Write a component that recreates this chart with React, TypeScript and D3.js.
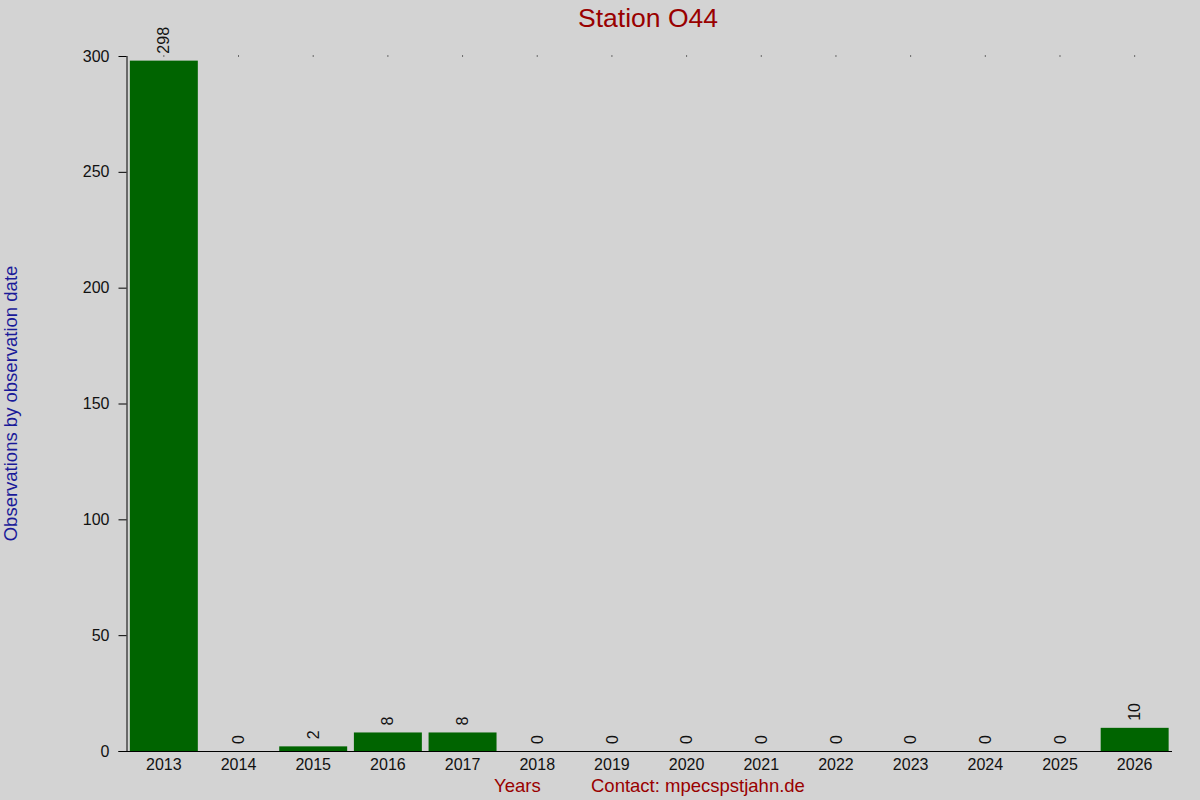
import React, { useEffect, useRef } from 'react';
import * as d3 from 'd3';

const years = ['2013', '2014', '2015', '2016', '2017', '2018', '2019', '2020', '2021', '2022', '2023', '2024', '2025', '2026'];
const counts = [298, 0, 2, 8, 8, 0, 0, 0, 0, 0, 0, 0, 0, 10];
const yTicks = [0, 50, 100, 150, 200, 250, 300];

const width = 1200;
const height = 800;
const font = '"Liberation Sans", Arial, sans-serif';

const App: React.FC = () => {
  const svgRef = useRef<SVGSVGElement>(null);

  useEffect(() => {
    const svg = d3.select(svgRef.current);
    svg.selectAll('*').remove();

    const margin = { top: 56, right: 28, bottom: 49, left: 126.5 };
    const innerWidth = width - margin.left - margin.right;
    const innerHeight = height - margin.top - margin.bottom;

    svg.append('rect').attr('width', width).attr('height', height).attr('fill', '#d3d3d3');

    const x = d3.scaleBand().domain(years).range([0, innerWidth]).paddingInner(0.09).paddingOuter(0.045);
    const y = d3.scaleLinear().domain([0, 300]).range([innerHeight, 0]);

    const g = svg.append('g').attr('transform', `translate(${margin.left},${margin.top})`);

    // Bars
    g.selectAll('.bar')
      .data(counts)
      .enter().append('rect')
      .attr('x', (_, i) => x(years[i]) as number)
      .attr('y', d => y(d))
      .attr('width', x.bandwidth())
      .attr('height', d => innerHeight - y(d))
      .attr('fill', '#006400');

    // Top dots
    g.selectAll('.dot')
      .data(years)
      .enter().append('rect')
      .attr('x', d => (x(d) as number) + x.bandwidth() / 2 - 0.5)
      .attr('y', -0.5)
      .attr('width', 1)
      .attr('height', 1)
      .attr('fill', '#000');

    // Value labels
    g.selectAll('.val')
      .data(counts)
      .enter().append('text')
      .attr('transform', (d, i) => `translate(${(x(years[i]) as number) + x.bandwidth() / 2},${y(d) - 7}) rotate(-90)`)
      .attr('dy', '0.35em')
      .style('font-family', font)
      .style('font-size', '16px')
      .style('fill', '#111')
      .text(d => d);

    // X axis
    const xAxis = g.append('g')
      .attr('transform', `translate(0,${innerHeight})`)
      .call(d3.axisBottom(x).tickSize(0).tickPadding(8));
    xAxis.select('.domain').attr('d', `M-8,0.5H${innerWidth}`).attr('stroke', '#000');
    xAxis.selectAll('text').style('font-family', font).style('font-size', '16px').attr('fill', '#111');

    // Y axis
    const yAxis = g.append('g')
      .call(d3.axisLeft(y).tickValues(yTicks).tickSize(8).tickPadding(9));
    yAxis.select('.domain').attr('d', `M0.5,0V${innerHeight}`).attr('stroke', '#000');
    yAxis.selectAll('text').style('font-family', font).style('font-size', '16px').attr('fill', '#111');

    // Title
    svg.append('text')
      .attr('x', 648)
      .attr('y', 27)
      .attr('text-anchor', 'middle')
      .style('font-family', font)
      .style('font-size', '26.5px')
      .style('fill', '#990000')
      .text('Station O44');

    // Y label
    svg.append('text')
      .attr('transform', `translate(17,${margin.top + innerHeight / 2}) rotate(-90)`)
      .attr('text-anchor', 'middle')
      .style('font-family', font)
      .style('font-size', '18.5px')
      .style('fill', '#1a1a99')
      .text('Observations by observation date');

    // Bottom labels
    svg.append('text')
      .attr('x', 494)
      .attr('y', 792)
      .style('font-family', font)
      .style('font-size', '18.5px')
      .style('fill', '#990000')
      .text('Years');

    svg.append('text')
      .attr('x', 591)
      .attr('y', 792)
      .style('font-family', font)
      .style('font-size', '18.5px')
      .style('fill', '#990000')
      .text('Contact: mpecspstjahn.de');
  }, []);

  return (
    <div style={{ position: 'fixed', left: 0, top: 0 }}>
      <svg ref={svgRef} width={width} height={height} style={{ display: 'block' }}></svg>
    </div>
  );
};

export default App;
